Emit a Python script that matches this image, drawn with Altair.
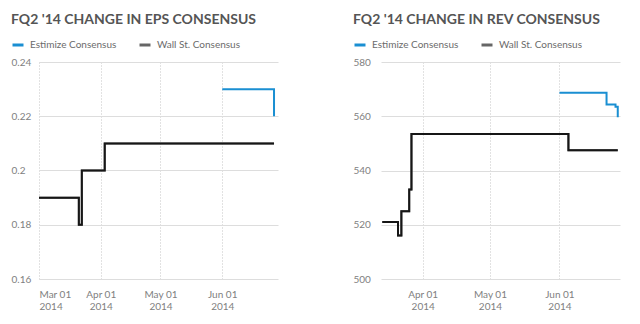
import altair as alt
import pandas as pd

# ---- data ----
series_names = ["Estimize Consensus", "Wall St. Consensus"]
series_colors = ["#1a8fd2", "#666666"]

eps_est_dates = ["2014-06-01T00:00:00Z", "2014-06-27T00:00:00Z"]
eps_est_vals = [0.23, 0.22]
eps_ws_dates = ["2014-03-01T00:00:00Z", "2014-03-21T00:00:00Z", "2014-03-22T12:00:00Z",
                "2014-04-03T00:00:00Z", "2014-06-27T00:00:00Z"]
eps_ws_vals = [0.19, 0.18, 0.20, 0.21, 0.21]

rev_est_dates = ["2014-06-01T00:00:00Z", "2014-06-22T00:00:00Z", "2014-06-26T00:00:00Z",
                 "2014-06-27T00:00:00Z"]
rev_est_vals = [568.7, 564.3, 563.5, 559.6]
rev_ws_dates = ["2014-03-14T00:00:00Z", "2014-03-21T00:00:00Z", "2014-03-22T12:00:00Z",
                "2014-03-26T00:00:00Z", "2014-03-27T00:00:00Z", "2014-06-05T00:00:00Z",
                "2014-06-27T00:00:00Z"]
rev_ws_vals = [521, 516, 525, 533, 553.5, 547.5, 547.5]

eps_yticks = [0.16, 0.18, 0.20, 0.22, 0.24]
rev_yticks = [500, 520, 540, 560, 580]

FONT = "Lato"


def dt(m, d, h=0):
    return alt.DateTime(year=2014, month=m, date=d, hours=h, utc=True)


def panel(title, est_d, est_v, ws_d, ws_v, xdomain, xticks, ydomain, yticks, yfmt):
    df = pd.DataFrame({
        "date": est_d + ws_d,
        "value": est_v + ws_v,
        "series": [series_names[0]] * len(est_d) + [series_names[1]] * len(ws_d),
    })
    x = alt.X(
        "date:T",
        scale=alt.Scale(type="utc", domain=xdomain),
        axis=alt.Axis(
            values=xticks,
            labelExpr="[utcFormat(datum.value, '%b %d'), utcFormat(datum.value, '%Y')]",
            grid=True, gridDash=[1, 2], gridColor="#c4c4c4", gridWidth=1,
            ticks=False, domain=False, labelPadding=10, labelFontSize=10,
            labelColor="#808080", labelLineHeight=12, labelFont=FONT, title=None,
        ),
    )
    y = alt.Y(
        "value:Q",
        scale=alt.Scale(domain=ydomain, zero=False, nice=False),
        axis=alt.Axis(
            values=yticks, format=yfmt, grid=True, gridColor="#dddddd", gridWidth=1.2,
            ticks=False, domain=False, labelAlign="left", labelPadding=28,
            labelFontSize=10, labelColor="#808080", labelFont=FONT, title=None,
        ),
    )
    base = alt.Chart(df).encode(x=x, y=y)
    colored = base.mark_line(interpolate="step-after", strokeWidth=2).encode(
        color=alt.Color(
            "series:N",
            scale=alt.Scale(domain=series_names, range=series_colors),
            legend=alt.Legend(
                orient="none", legendX=-28, legendY=-24, direction="horizontal",
                symbolType="stroke", symbolSize=121, symbolStrokeWidth=3,
                labelFontSize=10, labelColor="#6b6b6b", labelFont=FONT,
                labelOffset=5, columnPadding=16, title=None, padding=0,
            ),
        )
    )
    black = base.transform_filter(alt.datum.series == series_names[1]).mark_line(
        interpolate="step-after", strokeWidth=2, color="#161616"
    )
    return alt.layer(colored, black).properties(
        width=239, height=217,
        title=alt.TitleParams(
            title, anchor="start", frame="bounds", fontSize=14, fontWeight="bold",
            font=FONT, color="#555555", offset=11,
        ),
    )


left = panel("FQ2 '14 CHANGE IN EPS CONSENSUS", eps_est_dates, eps_est_vals,
             eps_ws_dates, eps_ws_vals, [dt(3, 1), dt(6, 29)],
             [dt(3, 1), dt(4, 1), dt(5, 1), dt(6, 1)], [0.16, 0.24], eps_yticks, "~g")
right = panel("FQ2 '14 CHANGE IN REV CONSENSUS", rev_est_dates, rev_est_vals,
              rev_ws_dates, rev_ws_vals, [dt(3, 13, 10), dt(6, 28)],
              [dt(4, 1), dt(5, 1), dt(6, 1)], [500, 580], rev_yticks, "d")

chart = (
    alt.hconcat(left, right, spacing=74)
    .resolve_scale(color="independent", x="independent", y="independent")
    .resolve_legend(color="independent")
    .configure_view(stroke=None)
    .properties(padding={"left": 11, "top": 13, "right": 0, "bottom": 0},
                background="white")
)

chart.save("out.html", embed_options={"renderer": "svg", "actions": False})
